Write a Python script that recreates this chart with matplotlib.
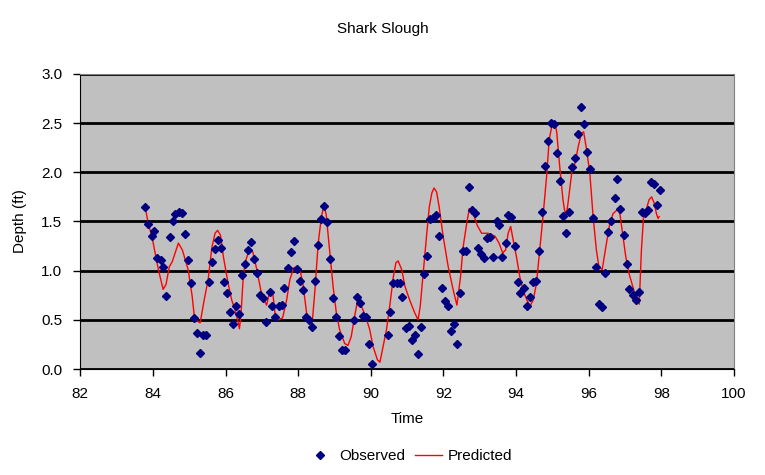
import numpy as np
import matplotlib.pyplot as plt

plt.rcParams['font.family'] = ['Liberation Sans', 'DejaVu Sans']

# Observed depths (monthly, with gaps)
obs_time = [83.79, 83.87, 83.96, 84.04, 84.12, 84.21, 84.29, 84.37, 84.46, 84.54,
            84.62, 84.71, 84.79, 84.87, 84.96, 85.04, 85.12, 85.21, 85.29, 85.37,
            85.46, 85.54, 85.62, 85.71, 85.79, 85.87, 85.96, 86.04, 86.12, 86.21,
            86.29, 86.37, 86.46, 86.54, 86.62, 86.71, 86.79, 86.87, 86.96, 87.04,
            87.12, 87.21, 87.29, 87.37, 87.46, 87.54, 87.62, 87.71, 87.79, 87.87,
            87.96, 88.04, 88.12, 88.21, 88.29, 88.37, 88.46, 88.54, 88.62, 88.71,
            88.79, 88.87, 88.96, 89.04, 89.12, 89.21, 89.29, 89.54, 89.62, 89.71,
            89.79, 89.87, 89.96, 90.04, 90.46, 90.54, 90.62, 90.71, 90.79, 90.87,
            90.96, 91.04, 91.12, 91.21, 91.29, 91.37, 91.46, 91.54, 91.62, 91.71,
            91.79, 91.87, 91.96, 92.04, 92.12, 92.21, 92.29, 92.37, 92.46, 92.54,
            92.62, 92.71, 92.79, 92.87, 92.96, 93.04, 93.12, 93.21, 93.29, 93.37,
            93.46, 93.54, 93.62, 93.71, 93.79, 93.87, 93.96, 94.04, 94.12, 94.21,
            94.29, 94.37, 94.46, 94.54, 94.62, 94.71, 94.79, 94.87, 94.96, 95.04,
            95.12, 95.21, 95.29, 95.37, 95.46, 95.54, 95.62, 95.71, 95.79, 95.87,
            95.96, 96.04, 96.12, 96.21, 96.29, 96.37, 96.46, 96.54, 96.62, 96.71,
            96.79, 96.87, 96.96, 97.04, 97.12, 97.21, 97.29, 97.37, 97.46, 97.54,
            97.62, 97.71, 97.79, 97.87, 97.96]
obs_depth = [1.65, 1.47, 1.35, 1.40, 1.13, 1.11, 1.04, 0.74, 1.34, 1.50,
             1.58, 1.60, 1.59, 1.37, 1.11, 0.87, 0.52, 0.365, 0.16, 0.345,
             0.345, 0.88, 1.09, 1.22, 1.31, 1.23, 0.88, 0.77, 0.58, 0.46,
             0.64, 0.56, 0.96, 1.07, 1.21, 1.29, 1.12, 0.975, 0.75, 0.72,
             0.48, 0.78, 0.64, 0.53, 0.64, 0.65, 0.82, 1.03, 1.19, 1.30,
             1.015, 0.90, 0.80, 0.53, 0.50, 0.43, 0.90, 1.26, 1.53, 1.655,
             1.49, 1.12, 0.72, 0.53, 0.34, 0.19, 0.19, 0.50, 0.73, 0.67,
             0.54, 0.53, 0.255, 0.05, 0.35, 0.58, 0.87, 0.87, 0.87, 0.73,
             0.42, 0.44, 0.30, 0.35, 0.155, 0.43, 0.965, 1.15, 1.53, 1.54,
             1.57, 1.35, 0.82, 0.69, 0.64, 0.39, 0.46, 0.255, 0.77, 1.20,
             1.20, 1.85, 1.62, 1.59, 1.23, 1.17, 1.13, 1.33, 1.34, 1.14,
             1.50, 1.46, 1.14, 1.28, 1.57, 1.55, 1.25, 0.88, 0.77, 0.82,
             0.64, 0.73, 0.88, 0.89, 1.20, 1.60, 2.06, 2.315, 2.50, 2.49,
             2.20, 1.91, 1.56, 1.38, 1.60, 2.05, 2.14, 2.39, 2.66, 2.49,
             2.21, 2.03, 1.54, 1.04, 0.66, 0.63, 0.975, 1.39, 1.50, 1.74,
             1.93, 1.63, 1.36, 1.07, 0.81, 0.75, 0.70, 0.78, 1.60, 1.59,
             1.62, 1.90, 1.88, 1.665, 1.82]

# Predicted depth curve
pred_time = [83.79, 83.81, 83.87, 83.97, 84.06, 84.15, 84.24, 84.28, 84.36, 84.45,
             84.53, 84.70, 84.81, 84.97, 85.08, 85.14, 85.25, 85.30, 85.41, 85.52,
             85.62, 85.71, 85.78, 85.86, 85.94, 86.07, 86.17, 86.26, 86.35, 86.38,
             86.42, 86.49, 86.56, 86.65, 86.75, 86.86, 86.97, 87.06, 87.13, 87.22,
             87.30, 87.36, 87.45, 87.57, 87.68, 87.77, 87.88, 87.98, 88.05, 88.14,
             88.23, 88.32, 88.38, 88.46, 88.55, 88.64, 88.71, 88.77, 88.87, 88.96,
             89.05, 89.14, 89.28, 89.37, 89.46, 89.55, 89.63, 89.74, 89.86, 89.97,
             90.06, 90.18, 90.25, 90.32, 90.43, 90.52, 90.62, 90.69, 90.75, 90.85,
             90.94, 91.07, 91.21, 91.30, 91.36, 91.44, 91.54, 91.61, 91.68, 91.74,
             91.81, 91.88, 91.99, 92.13, 92.27, 92.37, 92.47, 92.54, 92.64, 92.71,
             92.82, 92.93, 93.05, 93.23, 93.42, 93.53, 93.63, 93.71, 93.78, 93.85,
             93.92, 94.01, 94.10, 94.19, 94.30, 94.38, 94.47, 94.56, 94.65, 94.74,
             94.84, 94.91, 95.00, 95.07, 95.12, 95.20, 95.29, 95.37, 95.43, 95.53,
             95.62, 95.71, 95.80, 95.86, 95.94, 96.03, 96.12, 96.21, 96.28, 96.37,
             96.47, 96.58, 96.67, 96.76, 96.81, 96.86, 96.93, 97.02, 97.11, 97.21,
             97.32, 97.39, 97.45, 97.51, 97.59, 97.66, 97.73, 97.80, 97.87, 97.91,
             97.94]
pred_depth = [1.63, 1.60, 1.48, 1.35, 1.18, 1.01, 0.87, 0.81, 0.86, 1.04,
              1.09, 1.28, 1.21, 1.01, 0.74, 0.53, 0.48, 0.47, 0.70, 0.91,
              1.23, 1.38, 1.41, 1.36, 1.14, 0.87, 0.70, 0.60, 0.47, 0.41,
              0.53, 0.96, 1.11, 1.21, 1.19, 1.01, 0.80, 0.70, 0.65, 0.80,
              0.77, 0.57, 0.50, 0.52, 0.70, 0.91, 1.03, 1.04, 1.01, 0.84,
              0.57, 0.48, 0.45, 0.80, 1.28, 1.55, 1.67, 1.57, 1.18, 0.84,
              0.57, 0.40, 0.26, 0.24, 0.33, 0.53, 0.69, 0.64, 0.53, 0.40,
              0.23, 0.095, 0.07, 0.20, 0.40, 0.64, 0.94, 1.08, 1.10, 1.01,
              0.84, 0.70, 0.57, 0.50, 0.64, 0.97, 1.38, 1.65, 1.79, 1.84,
              1.80, 1.65, 1.35, 1.04, 0.80, 0.65, 0.94, 1.24, 1.48, 1.63,
              1.58, 1.46, 1.38, 1.38, 1.35, 1.28, 1.18, 1.21, 1.38, 1.45,
              1.31, 1.14, 0.94, 0.80, 0.70, 0.64, 0.70, 0.87, 1.21, 1.55,
              1.96, 2.33, 2.50, 2.51, 2.40, 2.06, 1.72, 1.53, 1.69, 1.99,
              2.09, 2.26, 2.40, 2.41, 2.23, 1.99, 1.55, 1.21, 1.04, 1.01,
              1.24, 1.48, 1.58, 1.61, 1.62, 1.57, 1.38, 1.14, 0.97, 0.84,
              0.70, 0.66, 1.21, 1.55, 1.63, 1.72, 1.75, 1.69, 1.57, 1.53,
              1.55]

fig = plt.figure(figsize=(7.65, 4.75), dpi=100)
ax = fig.add_axes([0.105, 0.223, 0.8545, 0.6215])
ax.set_facecolor('#c0c0c0')

ax.plot(pred_time, pred_depth, color='red', lw=1, label='Predicted', zorder=3)
ax.plot(obs_time, obs_depth, ls='none', marker='D', ms=4.5, color='#000080',
        label='Observed', zorder=4)

ax.set_xlim(82, 100)
ax.set_ylim(0, 3.0)
ax.set_xticks(np.arange(82, 101, 2))
ax.set_yticks(np.arange(0, 3.01, 0.5))
ax.set_yticklabels(['%.1f' % v for v in np.arange(0, 3.01, 0.5)])
ax.yaxis.grid(True, color='black', lw=2)
ax.set_axisbelow(True)
ax.tick_params(direction='out', length=5, width=1, labelsize=11, pad=8)

for s in ['top', 'right']:
    ax.spines[s].set_color('#808080')
for s in ['left', 'bottom']:
    ax.spines[s].set_color('black')

ax.set_xlabel('Time', fontsize=11, labelpad=8)
ax.set_ylabel('Depth (ft)', fontsize=11, labelpad=10)
fig.text(0.5, 0.94, 'Shark Slough', ha='center', va='center', fontsize=11)

h, l = ax.get_legend_handles_labels()
fig.legend(h[::-1], l[::-1], loc='center', bbox_to_anchor=(0.535, 0.04),
           ncol=2, frameon=False, fontsize=11, handlelength=1.8,
           columnspacing=0.6, handletextpad=0.4)

fig.savefig('out.png', dpi=100)
